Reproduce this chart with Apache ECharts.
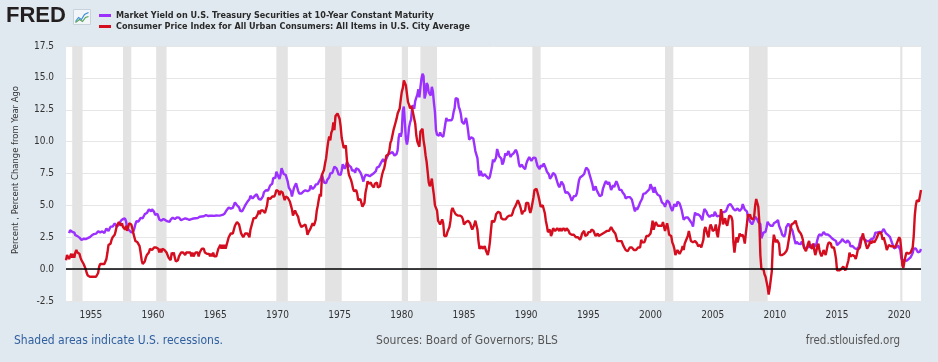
<!DOCTYPE html>
<html><head><meta charset="utf-8">
<script src="https://cdn.jsdelivr.net/npm/echarts@6/dist/echarts.min.js"></script>
<style>html,body{margin:0;padding:0;background:#e1e9f0}#c{width:938px;height:362px}</style>
</head><body><div id="c"></div><script>
// Monthly values starting January 1953 (10-year Treasury starts April 1953)
const startYear = 1953;
const seriesNames = [
  'Market Yield on U.S. Treasury Securities at 10-Year Constant Maturity',
  'Consumer Price Index for All Urban Consumers: All Items in U.S. City Average'
];
const gs10 = [
null,null,null,2.83,3.05,3.11,2.93,2.95,2.87,2.66,2.68,2.59,
2.48,2.47,2.37,2.29,2.37,2.38,2.30,2.36,2.38,2.43,2.48,2.51,
2.61,2.65,2.68,2.75,2.76,2.78,2.90,2.97,2.97,2.88,2.89,2.96,
2.90,2.84,2.96,3.18,3.07,3.00,3.11,3.33,3.38,3.34,3.49,3.59,
3.46,3.34,3.41,3.48,3.60,3.80,3.93,3.93,3.92,3.97,3.72,3.21,
3.09,3.05,2.98,2.88,2.92,2.97,3.20,3.54,3.76,3.80,3.74,3.86,
4.02,3.96,3.99,4.12,4.31,4.34,4.40,4.43,4.68,4.53,4.53,4.69,
4.72,4.49,4.25,4.28,4.35,4.15,3.90,3.80,3.80,3.89,3.93,3.84,
3.84,3.78,3.74,3.78,3.71,3.88,3.92,4.04,3.98,3.92,3.94,4.06,
4.08,4.04,3.93,3.84,3.87,3.91,4.01,3.98,3.98,3.93,3.92,3.86,
3.83,3.92,3.93,3.97,3.93,3.99,4.02,4.00,4.08,4.11,4.12,4.13,
4.17,4.15,4.22,4.23,4.20,4.17,4.19,4.19,4.20,4.19,4.15,4.18,
4.19,4.21,4.21,4.20,4.21,4.21,4.20,4.25,4.29,4.35,4.45,4.62,
4.61,4.83,4.87,4.75,4.78,4.81,5.02,5.22,5.18,5.01,5.16,4.84,
4.58,4.63,4.54,4.59,4.85,5.02,5.16,5.28,5.30,5.48,5.75,5.70,
5.53,5.56,5.74,5.64,5.87,5.72,5.50,5.42,5.46,5.58,5.70,6.03,
6.04,6.19,6.30,6.17,6.32,6.57,6.72,6.69,7.16,7.10,7.14,7.65,
7.79,7.24,7.07,7.39,7.91,7.84,7.46,7.53,7.39,7.33,6.84,6.39,
6.24,6.11,5.70,5.83,6.39,6.52,6.73,6.58,6.14,5.93,5.81,5.93,
5.95,6.08,6.07,6.19,6.13,6.11,6.11,6.21,6.55,6.48,6.28,6.36,
6.46,6.64,6.71,6.67,6.85,6.90,7.13,7.40,7.09,6.79,6.73,6.74,
6.99,6.96,7.21,7.51,7.58,7.54,7.81,8.04,8.04,7.90,7.68,7.43,
7.50,7.39,7.73,8.23,8.06,7.86,8.06,8.40,8.43,8.14,8.05,8.00,
7.74,7.79,7.73,7.56,7.90,7.86,7.83,7.77,7.59,7.41,7.29,6.87,
7.21,7.39,7.46,7.37,7.46,7.28,7.33,7.40,7.34,7.52,7.58,7.69,
7.96,8.03,8.04,8.15,8.35,8.46,8.64,8.41,8.42,8.64,8.81,9.01,
9.10,9.10,9.12,9.18,9.25,8.91,8.95,9.03,9.33,10.30,10.65,10.39,
10.80,12.41,12.75,11.47,10.18,9.78,10.25,11.10,11.51,11.75,12.68,12.84,
12.57,13.19,13.12,13.68,14.10,13.47,14.28,14.94,15.32,15.15,13.39,13.72,
14.59,14.43,13.86,13.87,13.62,14.30,13.95,13.06,12.34,10.91,10.55,10.54,
10.46,10.72,10.51,10.40,10.38,10.85,11.38,11.85,11.65,11.54,11.69,11.83,
11.67,11.84,12.32,12.63,13.41,13.56,13.36,12.72,12.52,12.16,11.57,11.50,
11.38,11.51,11.86,11.43,10.85,10.16,10.31,10.33,10.37,10.24,9.78,9.26,
9.19,8.70,7.78,7.30,7.71,7.80,7.30,7.17,7.45,7.43,7.25,7.11,
7.08,7.25,7.25,8.02,8.61,8.40,8.45,8.76,9.42,9.52,8.86,8.99,
8.67,8.21,8.37,8.72,9.09,8.92,9.06,9.26,8.98,8.80,8.96,9.11,
9.09,9.17,9.36,9.18,8.86,8.28,8.02,8.11,8.19,8.01,7.87,7.84,
8.21,8.47,8.59,8.79,8.76,8.48,8.47,8.75,8.89,8.72,8.39,8.08,
8.09,7.85,8.11,8.04,8.07,8.28,8.27,7.90,7.65,7.53,7.42,7.09,
7.03,7.34,7.54,7.48,7.39,7.26,6.84,6.59,6.42,6.59,6.87,6.77,
6.60,6.26,5.98,5.97,6.04,5.96,5.81,5.68,5.36,5.33,5.72,5.77,
5.75,5.97,6.48,6.97,7.18,7.10,7.30,7.24,7.46,7.74,7.96,7.81,
7.78,7.47,7.20,7.06,6.63,6.17,6.28,6.49,6.20,6.04,5.93,5.71,
5.65,5.81,6.27,6.51,6.74,6.91,6.87,6.64,6.83,6.53,6.20,6.30,
6.58,6.42,6.69,6.89,6.71,6.49,6.22,6.30,6.21,6.03,5.88,5.81,
5.54,5.57,5.65,5.64,5.65,5.50,5.46,5.34,4.81,4.53,4.83,4.65,
4.72,5.00,5.23,5.18,5.54,5.90,5.79,5.94,5.92,6.11,6.03,6.28,
6.66,6.52,6.26,5.99,6.44,6.10,6.05,5.83,5.80,5.74,5.72,5.24,
5.16,5.10,4.89,5.14,5.39,5.28,5.24,4.97,4.73,4.57,4.65,5.09,
5.04,4.91,5.28,5.21,5.16,4.93,4.65,4.26,3.87,3.94,4.05,4.03,
4.05,3.90,3.81,3.96,3.57,3.33,3.98,4.45,4.27,4.29,4.30,4.27,
4.15,4.08,3.83,4.35,4.72,4.73,4.50,4.28,4.13,4.10,4.19,4.23,
4.22,4.17,4.50,4.34,4.14,4.00,4.18,4.26,4.20,4.46,4.54,4.47,
4.42,4.57,4.72,4.99,5.11,5.11,5.09,4.88,4.72,4.73,4.60,4.56,
4.76,4.72,4.56,4.69,4.75,5.10,5.00,4.67,4.52,4.53,4.15,4.10,
3.74,3.74,3.51,3.68,3.88,4.10,4.01,3.89,3.69,3.81,3.53,2.42,
2.52,2.87,2.82,2.93,3.29,3.72,3.56,3.59,3.40,3.39,3.40,3.59,
3.73,3.69,3.73,3.85,3.42,3.20,3.01,2.70,2.65,2.54,2.76,3.29,
3.39,3.58,3.41,3.46,3.17,3.00,3.00,2.30,1.98,2.15,2.01,1.98,
1.97,1.97,2.17,2.05,1.80,1.62,1.53,1.68,1.72,1.75,1.65,1.72,
1.91,1.98,1.96,1.76,1.93,2.30,2.58,2.74,2.81,2.62,2.72,2.90,
2.86,2.71,2.72,2.71,2.56,2.60,2.54,2.42,2.53,2.30,2.33,2.21,
1.88,1.98,2.04,1.94,2.20,2.36,2.32,2.17,2.17,2.07,2.26,2.24,
2.09,1.78,1.89,1.81,1.81,1.64,1.50,1.56,1.63,1.76,2.14,2.49,
2.43,2.42,2.48,2.30,2.30,2.19,2.32,2.21,2.20,2.36,2.35,2.40,
2.58,2.86,2.84,2.87,2.98,2.91,2.89,2.89,3.00,3.15,3.12,2.83,
2.71,2.68,2.57,2.53,2.40,2.07,2.06,1.63,1.70,1.71,1.81,1.86,
1.76,1.50,0.87,0.66,0.67,0.73,0.62,0.65,0.68,0.79,0.87,0.93,
1.08,1.26,1.61,1.64,1.62,1.52,1.32,1.28,1.37,1.58
];
const cpi = [
0.7,1.1,1.2,0.8,1.0,1.2,0.9,1.2,0.9,1.3,1.5,1.3,
1.4,1.2,0.9,0.7,0.6,0.4,0.2,0.0,-0.3,-0.5,-0.6,-0.6,
-0.7,-0.6,-0.6,-0.6,-0.6,-0.6,-0.5,-0.3,0.2,0.4,0.4,0.4,
0.4,0.4,0.4,0.8,1.3,1.9,2.0,2.0,2.3,2.5,2.4,2.7,
3.0,3.4,3.5,3.7,3.7,3.4,3.6,3.3,3.4,3.1,3.4,3.0,
3.3,3.6,3.7,3.5,3.2,2.8,2.5,2.2,2.1,2.1,2.0,1.8,
1.3,0.7,0.4,0.5,0.6,0.9,1.1,1.2,1.3,1.6,1.5,1.5,
1.4,1.7,1.6,1.7,1.8,1.6,1.3,1.6,1.3,1.6,1.5,1.5,
1.6,1.3,1.4,0.9,0.9,0.7,1.3,1.1,1.3,0.9,0.6,0.7,
0.7,1.0,1.1,1.3,1.3,1.3,1.2,1.1,1.3,1.3,1.3,1.3,
1.3,1.0,1.3,1.0,1.0,1.3,1.3,1.3,1.0,1.3,1.3,1.6,
1.6,1.6,1.3,1.3,1.2,1.2,1.2,1.0,1.2,1.0,1.3,1.0,
1.0,1.0,1.3,1.6,1.6,1.9,1.6,1.9,1.6,1.9,1.6,1.9,
1.9,2.5,2.5,2.8,2.8,2.8,2.8,3.4,3.4,3.7,3.7,3.5,
3.4,2.8,2.8,2.5,2.5,2.8,2.8,2.8,2.8,2.5,3.1,3.1,
3.7,4.0,4.0,4.0,4.0,4.3,4.6,4.3,4.6,4.6,4.6,4.7,
4.4,4.7,5.0,5.6,5.5,5.5,5.4,5.7,5.7,5.7,5.9,6.2,
6.2,6.1,5.8,6.1,6.0,6.0,6.0,5.4,5.7,5.6,5.6,5.6,
5.3,5.0,4.7,4.2,4.4,4.6,4.4,4.5,4.1,3.7,3.5,3.3,
3.3,3.4,3.5,3.5,3.2,2.7,2.9,2.9,3.2,3.3,3.6,3.4,
3.6,3.9,4.6,5.0,5.5,5.9,5.7,7.4,7.4,7.8,8.3,8.7,
9.4,10.0,10.4,10.1,10.7,10.9,11.5,10.9,12.0,12.0,12.2,12.3,
11.8,11.2,10.3,10.2,9.5,9.4,9.7,8.6,7.9,7.4,7.4,7.0,
6.7,6.3,6.1,6.0,6.2,5.9,5.4,5.5,5.5,5.5,4.9,4.9,
5.2,6.0,6.4,6.9,6.7,6.8,6.8,6.6,6.6,6.4,6.7,6.7,
6.8,6.4,6.4,6.5,7.0,7.4,7.7,7.9,8.3,8.9,8.9,9.0,
9.3,9.9,10.1,10.5,10.9,11.2,11.5,11.8,12.2,12.1,12.6,13.3,
13.9,14.2,14.8,14.7,14.4,14.4,13.1,12.9,12.6,12.8,12.6,12.5,
11.8,11.4,10.5,10.0,9.8,9.6,10.8,10.8,11.0,10.1,9.6,8.9,
8.4,7.6,6.8,6.5,6.7,7.1,6.4,5.8,5.0,5.1,4.6,3.8,
3.7,3.5,3.6,3.9,3.6,2.6,2.5,2.6,2.9,2.9,3.3,3.8,
4.6,4.8,4.6,4.6,4.3,4.2,4.2,4.3,4.2,4.3,4.1,3.9,
3.5,3.5,3.7,3.7,3.8,3.8,3.6,3.3,3.1,3.2,3.5,3.8,
3.9,3.1,2.2,1.6,1.5,1.8,1.6,1.6,1.8,1.5,1.3,1.1,
1.5,2.1,3.0,3.8,3.9,3.7,3.9,4.3,4.4,4.5,4.5,4.4,
4.0,3.9,3.9,3.9,3.9,4.0,4.1,4.0,4.2,4.2,4.2,4.4,
4.7,4.8,5.0,5.1,5.4,5.2,5.0,4.7,4.3,4.5,4.6,4.6,
5.2,5.3,5.2,4.7,4.4,4.7,4.8,5.6,6.2,6.3,6.3,6.3,
5.7,5.3,4.9,4.9,5.0,4.7,4.4,3.8,3.4,2.9,3.0,3.1,
2.6,2.8,3.2,3.2,3.0,3.1,3.2,3.1,3.0,3.2,3.0,2.9,
3.2,3.2,3.0,3.2,3.2,3.0,2.8,2.8,2.7,2.8,2.7,2.7,
2.5,2.5,2.5,2.4,2.3,2.5,2.8,2.9,3.0,2.6,2.7,2.7,
2.9,2.9,2.9,3.1,3.2,3.0,2.8,2.6,2.5,2.8,2.6,2.5,
2.7,2.7,2.8,2.8,2.9,2.8,3.0,2.9,3.0,3.0,3.3,3.3,
3.0,3.0,2.8,2.5,2.2,2.3,2.2,2.2,2.2,2.1,1.8,1.7,
1.5,1.4,1.4,1.5,1.7,1.7,1.7,1.6,1.5,1.5,1.5,1.6,
1.7,1.6,1.7,2.3,2.1,2.0,2.1,2.3,2.6,2.6,2.6,2.7,
2.8,3.2,3.8,3.1,3.2,3.7,3.7,3.4,3.5,3.4,3.4,3.4,
3.7,3.6,3.0,3.3,3.6,3.2,2.7,2.7,2.6,2.1,1.9,1.6,
1.1,1.1,1.5,1.6,1.2,1.1,1.5,1.8,1.5,2.0,2.2,2.4,
2.6,3.0,3.0,2.2,2.1,2.1,2.1,2.2,2.3,2.0,1.8,1.9,
1.9,1.7,1.7,2.3,3.1,3.3,3.0,2.7,2.5,3.2,3.5,3.3,
3.0,3.0,3.1,3.5,2.8,2.5,3.2,3.6,4.7,4.3,3.5,3.4,
4.0,3.6,3.4,3.5,4.2,4.3,4.1,3.8,2.1,1.3,2.0,2.5,
2.1,2.4,2.8,2.6,2.7,2.7,2.4,2.0,2.8,3.5,4.3,4.1,
4.3,4.0,4.0,3.9,4.1,5.0,5.5,5.4,4.9,3.7,1.1,0.0,
0.0,0.0,-0.4,-0.6,-1.0,-1.4,-2.0,-1.5,-1.4,-0.2,1.8,2.7,
2.6,2.1,2.3,2.2,2.0,1.1,1.2,1.1,1.1,1.2,1.1,1.4,
1.6,2.1,2.6,3.1,3.5,3.5,3.6,3.7,3.8,3.5,3.4,3.0,
2.9,2.8,2.6,2.3,1.7,1.7,1.4,1.7,2.0,2.2,1.8,1.7,
1.6,2.0,1.5,1.1,1.4,1.8,2.0,1.5,1.2,1.0,1.2,1.5,
1.6,1.1,1.5,1.9,2.1,2.1,2.0,1.7,1.7,1.7,1.3,0.8,
-0.1,0.0,-0.1,-0.2,0.0,0.1,0.2,0.2,-0.1,0.1,0.4,0.7,
1.3,1.0,0.9,1.1,1.0,1.0,0.8,1.1,1.5,1.6,1.7,2.1,
2.5,2.8,2.4,2.2,1.9,1.6,1.7,1.9,2.2,2.0,2.2,2.1,
2.1,2.2,2.4,2.5,2.8,2.9,2.9,2.7,2.3,2.5,2.2,1.9,
1.5,1.5,1.9,2.0,1.8,1.7,1.8,1.7,1.7,1.8,2.1,2.3,
2.5,2.3,1.5,0.3,0.1,0.6,1.0,1.3,1.4,1.2,1.2,1.3,
1.4,1.7,2.6,4.2,5.0,5.4,5.4,5.3,5.4,6.2
];
const xTickYears = [1955,1960,1965,1970,1975,1980,1985,1990,1995,2000,2005,2010,2015,2020];
const recessions = [
['1953-07','1954-05'],['1957-08','1958-04'],['1960-04','1961-02'],['1969-12','1970-11'],
['1973-11','1975-03'],['1980-01','1980-07'],['1981-07','1982-11'],['1990-07','1991-03'],
['2001-03','2001-11'],['2007-12','2009-06'],['2020-02','2020-04']
];

const FONT = '"Liberation Sans Narrow","Arial Narrow","DejaVu Sans Condensed",sans-serif';
const toYear = s => { const [y,m] = s.split('-').map(Number); return y + (m-1)/12; };
const pairs = arr => arr.map((v,i) => [startYear + i/12, v]);

const chart = echarts.init(document.getElementById('c'), null, {renderer:'canvas'});
chart.setOption({
  backgroundColor: '#e1e9f0',
  animation: false,
  textStyle: {fontFamily: FONT},
  grid: {left: 66, right: 17, top: 46, bottom: 61, show: true, backgroundColor: '#ffffff', borderWidth: 0},
  legend: {
    orient: 'vertical', left: 99, top: 10, padding: 0, itemWidth: 12, itemHeight: 3, itemGap: 0, icon: 'rect',
    selectedMode: false,
    textStyle: {fontFamily: FONT, fontSize: 9, fontWeight: 'bold', color: '#2a2a2a', lineHeight: 11},
    data: seriesNames
  },
  xAxis: {
    type: 'value', min: 1953, max: 2021.75,
    axisLine: {show: true, lineStyle: {color: '#ccd6eb', width: 1}},
    axisTick: {show: false},
    splitLine: {show: false},
    axisLabel: {customValues: xTickYears, formatter: v => String(Math.round(v)), color: '#333', fontSize: 10, fontFamily: FONT, margin: 9}
  },
  yAxis: {
    type: 'value', min: -2.5, max: 17.5, interval: 2.5,
    axisLine: {show: false}, axisTick: {show: false},
    splitLine: {lineStyle: {color: '#e6e6e6', width: 1}},
    axisLabel: {formatter: v => v.toFixed(1), color: '#333', fontSize: 10, fontFamily: FONT, margin: 12}
  },
  series: [
    {
      name: seriesNames[0], type: 'line', data: pairs(gs10), showSymbol: false, symbol: 'none',
      lineStyle: {color: '#9b30ff', width: 2.4}, itemStyle: {color: '#9b30ff'}, connectNulls: false, z: 3,
      markArea: {silent: true, itemStyle: {color: '#e3e3e3'},
        data: recessions.map(r => [{xAxis: toYear(r[0])}, {xAxis: toYear(r[1])}])}
    },
    {
      name: seriesNames[1], type: 'line', data: pairs(cpi), showSymbol: false, symbol: 'none',
      lineStyle: {color: '#d40e1f', width: 2.4}, itemStyle: {color: '#d40e1f'}, z: 4,
      markLine: {silent: true, symbol: 'none', label: {show: false},
        lineStyle: {color: '#000', width: 1.5, type: 'solid'}, data: [{yAxis: 0}]}
    }
  ],
  graphic: [
    {type: 'text', left: 6, top: 5, style: {text: 'FRED', font: 'bold 22px "Liberation Sans", Arial, sans-serif', fill: '#231f20'}},
    {type: 'group', left: 73, top: 9, children: [
      {type: 'rect', shape: {x: 0, y: 0, width: 17, height: 15}, style: {fill: '#f3f6f9', stroke: '#c8d2dc', lineWidth: 1}},
      {type: 'polyline', shape: {points: [[2,12],[5,8],[8,10],[11,5],[15,3]]}, style: {stroke: '#3b8fd9', lineWidth: 1.2, fill: null}},
      {type: 'polyline', shape: {points: [[2,13],[6,10],[9,12],[12,8],[15,7]]}, style: {stroke: '#5aa35a', lineWidth: 1.2, fill: null}}
    ]},
    {type: 'text', left: 14, top: 335, style: {text: 'Shaded areas indicate U.S. recessions.', font: '12px ' + FONT, fill: '#2f5f9e'}},
    {type: 'text', x: 467, y: 341, style: {text: 'Sources: Board of Governors; BLS', font: '12px ' + FONT, fill: '#555', align: 'center', verticalAlign: 'middle'}},
    {type: 'text', x: 900, y: 341, style: {text: 'fred.stlouisfed.org', font: '11.5px ' + FONT, fill: '#555', align: 'right', verticalAlign: 'middle'}},
    {type: 'text', x: 16, y: 170, rotation: Math.PI/2, style: {text: 'Percent , Percent Change from Year Ago', font: '9.4px ' + FONT, fill: '#333', align: 'center', verticalAlign: 'middle'}}
  ]
});
</script></body></html>
